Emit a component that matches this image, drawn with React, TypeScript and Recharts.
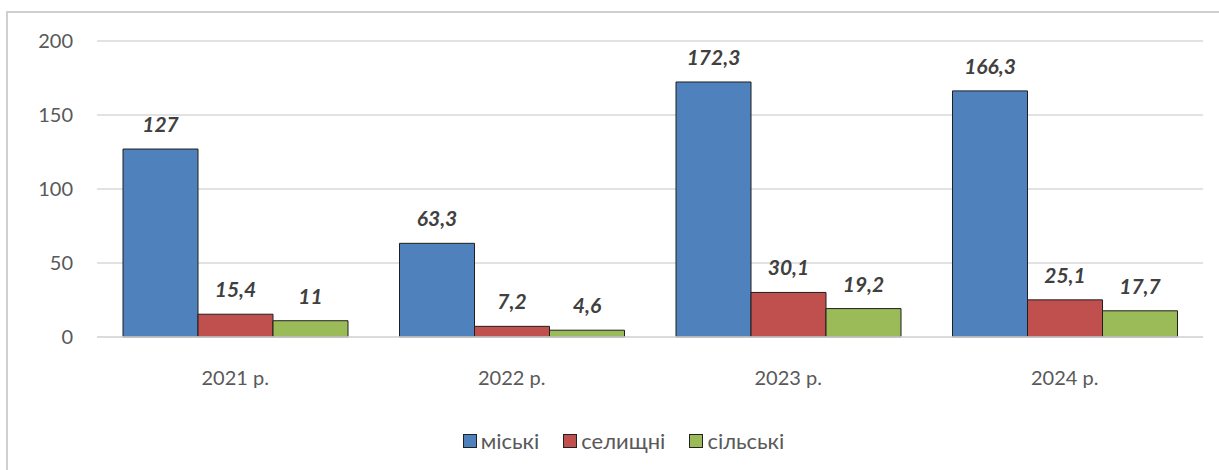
import React from 'react';
import { BarChart, Bar, XAxis, YAxis, CartesianGrid, Legend, LabelList } from 'recharts';

const categories = ['2021 р.', '2022 р.', '2023 р.', '2024 р.'];
const urban = [127, 63.3, 172.3, 166.3];
const settlement = [15.4, 7.2, 30.1, 25.1];
const rural = [11, 4.6, 19.2, 17.7];
const seriesNames = ['міські', 'селищні', 'сільські'];
const yTicks = [0, 50, 100, 150, 200];

const colors = ['#4F81BD', '#C0504D', '#9BBB59'];
const keys = ['urban', 'settlement', 'rural'];

const data = categories.map((c, i) => ({
  name: c,
  urban: urban[i],
  settlement: settlement[i],
  rural: rural[i],
}));

const FONT = 'Lato, "Noto Sans", sans-serif';

const fmt = (v: any) => String(v).replace('.', ',');

const renderLegend = () => (
  <div style={{ display: 'flex', justifyContent: 'center', alignItems: 'center', fontFamily: FONT, fontSize: 22, color: '#595959', paddingLeft: 44 }}>
    {seriesNames.map((n, i) => (
      <div key={n} style={{ display: 'flex', alignItems: 'center', marginLeft: i === 0 ? 0 : 24 }}>
        <span style={{ display: 'inline-block', width: 12, height: 12, background: colors[i], border: '1px solid #222', marginRight: 4 }} />
        <span>{n}</span>
      </div>
    ))}
  </div>
);

export default function App() {
  return (
    <div style={{ position: 'absolute', left: 0, top: 0, width: 1219, height: 470, background: '#fff' }}>
      <div style={{ position: 'absolute', left: 6, top: 11, width: 1213, height: 459, borderLeft: '2px solid #d0d0d0', borderTop: '2px solid #d0d0d0', boxSizing: 'border-box' }} />
      <BarChart
        width={1219}
        height={470}
        data={data}
        margin={{ top: 41, right: 16, bottom: 8, left: 0 }}
        barCategoryGap={26}
        barGap={0}
        style={{ position: 'absolute', left: 0, top: 0 }}
      >
        <CartesianGrid vertical={false} stroke="#d9d9d9" strokeWidth={1.5} />
        <XAxis
          dataKey="name"
          axisLine={{ stroke: '#d9d9d9', strokeWidth: 1.5 }}
          tickLine={false}
          tick={{ fill: '#595959', fontSize: 20, fontFamily: FONT }}
          tickMargin={28}
          height={95}
        />
        <YAxis
          domain={[0, 200]}
          ticks={yTicks}
          axisLine={false}
          tickLine={false}
          tickSize={0}
          tickMargin={24}
          width={97}
          tick={{ fill: '#595959', fontSize: 20, fontFamily: FONT }}
        />
        <Legend content={renderLegend} verticalAlign="bottom" height={30} wrapperStyle={{ bottom: 13 }} />
        {keys.map((k, i) => (
          <Bar key={k} dataKey={k} name={seriesNames[i]} fill={colors[i]} stroke="#1f1f1f" strokeWidth={1} isAnimationActive={false}>
            <LabelList
              dataKey={k}
              position="top"
              offset={17}
              formatter={fmt}
              style={{ fill: '#404040', fontSize: 21, fontWeight: 'bold', fontStyle: 'italic', fontFamily: FONT }}
            />
          </Bar>
        ))}
      </BarChart>
    </div>
  );
}
